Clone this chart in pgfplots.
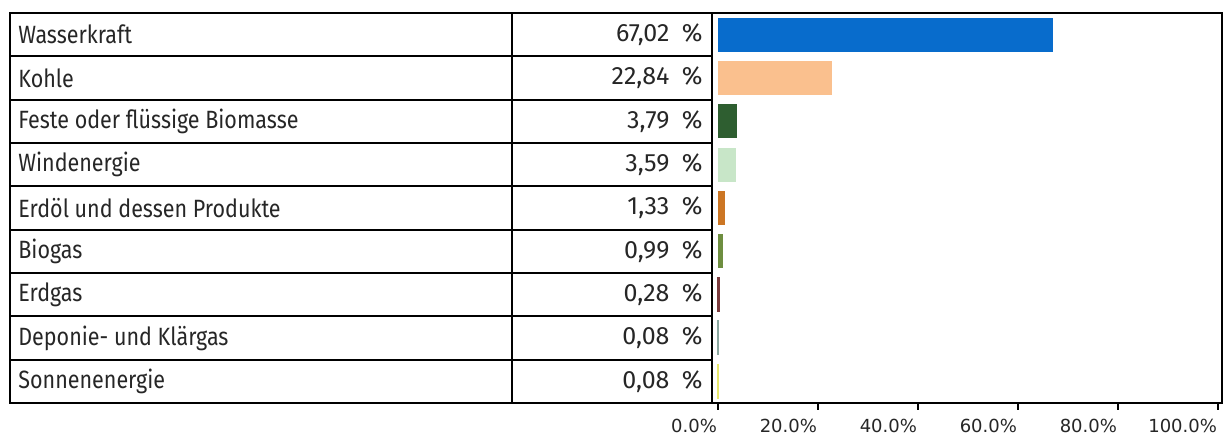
\documentclass[border=0pt]{standalone}
\usepackage{pgfplots}
\pgfplotsset{compat=1.18}
\usepackage{pgfplotstable}
\usepackage{fontspec}
\setmainfont[FakeStretch=0.86]{Fira Sans}
\newfontfamily\valfont{Fira Sans}
\newfontfamily\tickfont{DejaVu Sans}

\definecolor{cWasser}{RGB}{8,108,204}
\definecolor{cKohle}{RGB}{250,192,142}
\definecolor{cFeste}{RGB}{46,94,48}
\definecolor{cWind}{RGB}{200,230,200}
\definecolor{cErdoel}{RGB}{204,118,36}
\definecolor{cBiogas}{RGB}{110,142,64}
\definecolor{cErdgas}{RGB}{122,58,60}
\definecolor{cDeponie}{RGB}{140,168,160}
\definecolor{cSonne}{RGB}{232,232,110}

\pgfplotstableread[col sep=comma]{
pos,val,name
1,67.02,Wasserkraft
2,22.84,Kohle
3,3.79,Feste oder flüssige Biomasse
4,3.59,Windenergie
5,1.33,Erdöl und dessen Produkte
6,0.99,Biogas
7,0.28,Erdgas
8,0.08,Deponie- und Klärgas
9,0.08,Sonnenenergie
}\datatable

\begin{document}
\begin{tikzpicture}
\begin{axis}[
  scale only axis,
  width=606pt, height=195pt,
  xmin=-141.6, xmax=100.8,
  ymin=0.5, ymax=9.5,
  y dir=reverse,
  clip=false,
  axis line style={black, line width=1pt},
  ytick=\empty,
  xtick={0,20,40,60,80,100},
  xtick pos=left,
  tick align=outside,
  major tick length=3.5pt,
  every tick/.style={black, line width=0.9pt},
  /pgf/number format/assume math mode=true,
  xticklabel={\pgfmathprintnumber[fixed,fixed zerofill,precision=1]{\tick}\%},
  xticklabel style={font=\tickfont\fontsize{9}{10}\selectfont, text=black!85,
    anchor=north east, xshift=3pt, yshift=-1.2pt},
]
% table grid
\pgfplotsinvokeforeach{1.5,2.5,3.5,4.5,5.5,6.5,7.5,8.5}{
  \draw[black, line width=0.9pt] (axis cs:-141.6,#1) -- (axis cs:-1.2,#1);
}
\draw[black, line width=0.9pt] (axis cs:-41.2,0.5) -- (axis cs:-41.2,9.5);
\draw[black, line width=1pt] (axis cs:-1.2,0.5) -- (axis cs:-1.2,9.5);

% bars
\addplot[xbar, bar width=0.78, bar shift=0pt, fill=cWasser, draw=none] coordinates {(67.02,1)};
\addplot[xbar, bar width=0.78, bar shift=0pt, fill=cKohle, draw=none] coordinates {(22.84,2)};
\addplot[xbar, bar width=0.78, bar shift=0pt, fill=cFeste, draw=none] coordinates {(3.79,3)};
\addplot[xbar, bar width=0.78, bar shift=0pt, fill=cWind, draw=none] coordinates {(3.59,4)};
\addplot[xbar, bar width=0.78, bar shift=0pt, fill=cErdoel, draw=none] coordinates {(1.33,5)};
\addplot[xbar, bar width=0.78, bar shift=0pt, fill=cBiogas, draw=none] coordinates {(0.99,6)};
\addplot[xbar, bar width=0.78, bar shift=0pt, fill=cErdgas, draw=cErdgas, line width=0.6pt] coordinates {(0.28,7)};
\addplot[xbar, bar width=0.78, bar shift=0pt, fill=cDeponie, draw=cDeponie, line width=0.6pt] coordinates {(0.08,8)};
\addplot[xbar, bar width=0.78, bar shift=0pt, fill=cSonne, draw=cSonne, line width=0.9pt] coordinates {(0.08,9)};

% names
\addplot[draw=none, mark=none, point meta=explicit symbolic,
  nodes near coords,
  nodes near coords style={anchor=west, inner sep=0pt, font=\fontsize{12.5}{14}\selectfont, text=black!85}]
  table[x expr=-140, y=pos, meta=name] {\datatable};
% values
\addplot[draw=none, mark=none, point meta=\thisrow{val},
  nodes near coords={\pgfmathprintnumber[fixed,fixed zerofill,precision=2,use comma]{\pgfplotspointmeta}\hspace{0.5em}\%},
  nodes near coords style={anchor=east, inner sep=0pt, font=\valfont\fontsize{12.5}{14}\selectfont, text=black!85}]
  table[x expr=-3, y=pos] {\datatable};
\end{axis}
\pgfresetboundingbox
\path ([shift={(-5pt,-16.5pt)}]current axis.south west) rectangle ([shift={(3pt,6.5pt)}]current axis.north east);
\end{tikzpicture}
\end{document}
